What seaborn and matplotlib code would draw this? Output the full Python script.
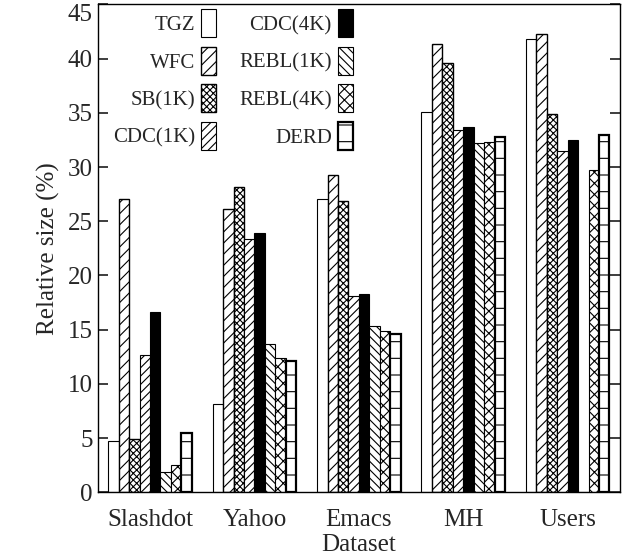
import matplotlib
matplotlib.use("Agg")
import matplotlib.pyplot as plt
from matplotlib.patches import Patch
import numpy as np
import pandas as pd
import seaborn as sns

datasets = ["Slashdot", "Yahoo", "Emacs", "MH", "Users"]
methods = ["TGZ", "WFC", "SB(1K)", "CDC(1K)", "CDC(4K)", "REBL(1K)", "REBL(4K)", "DERD"]

tgz = [4.7, 8.1, 27.1, 35.1, 41.8]
wfc = [27.1, 26.1, 29.3, 41.4, 42.3]
sb_1k = [4.9, 28.2, 26.9, 39.6, 34.9]
cdc_1k = [12.7, 23.4, 18.1, 33.4, 31.5]
cdc_4k = [16.6, 23.9, 18.3, 33.7, 32.5]
rebl_1k = [1.9, 13.7, 15.3, 32.2, 0.0]
rebl_4k = [2.5, 12.4, 14.9, 32.3, 29.7]
derd = [5.5, 12.1, 14.6, 32.8, 33.0]

series = [tgz, wfc, sb_1k, cdc_1k, cdc_4k, rebl_1k, rebl_4k, derd]

rows = []
for m, vals in zip(methods, series):
    for d, v in zip(datasets, vals):
        rows.append({"Dataset": d, "Method": m, "Relative size (%)": v})
df = pd.DataFrame(rows)

sns.set_theme(style="ticks")
plt.rcParams["font.family"] = ["Liberation Serif", "DejaVu Serif"]
plt.rcParams["hatch.linewidth"] = 0.8

styles = {
    "TGZ": dict(fc="white", hatch=None, lw=0.8),
    "WFC": dict(fc="white", hatch="///", lw=1.0),
    "SB(1K)": dict(fc="white", hatch="xxxxx", lw=1.0),
    "CDC(1K)": dict(fc="white", hatch="////", lw=0.8),
    "CDC(4K)": dict(fc="black", hatch=None, lw=0.8),
    "REBL(1K)": dict(fc="white", hatch="\\\\\\\\", lw=0.8),
    "REBL(4K)": dict(fc="white", hatch="xxx", lw=0.8),
    "DERD": dict(fc="white", hatch="-", lw=1.6),
}

fig = plt.figure(figsize=(6.23, 5.6), dpi=100)
ax = fig.add_axes([0.157, 0.121, 0.838, 0.871])

sns.barplot(data=df, x="Dataset", y="Relative size (%)", hue="Method",
            order=datasets, hue_order=methods, width=0.8, ax=ax,
            errorbar=None, legend=False)

for m, cont in zip(methods, ax.containers):
    st = styles[m]
    for p in cont.patches:
        p.set_facecolor(st["fc"])
        p.set_edgecolor("black")
        p.set_linewidth(st["lw"])
        if st["hatch"]:
            p.set_hatch(st["hatch"])

handles = [Patch(facecolor=styles[m]["fc"], edgecolor="black",
                 hatch=styles[m]["hatch"], linewidth=styles[m]["lw"], label=m)
           for m in methods]
ax.legend(handles=handles, loc="upper left", ncol=2, frameon=False,
          markerfirst=False, fontsize=15, handlelength=0.72, handleheight=1.7,
          labelspacing=0.45, columnspacing=1.1, handletextpad=0.3,
          borderpad=0, borderaxespad=0, bbox_to_anchor=(0.029, 0.99))

ax.set_ylim(0, 45)
ax.set_xlim(-0.5, 4.5)
ax.set_yticks(np.arange(0, 46, 5))
ax.set_ylabel("Relative size (%)", fontsize=18, labelpad=6)
ax.set_xlabel("Dataset", fontsize=18, labelpad=2)
ax.tick_params(axis="y", direction="in", right=True, labelsize=18, length=7)
ax.tick_params(axis="x", length=0, labelsize=18, pad=12)
ax.get_yticklabels()[-1].set_verticalalignment("top")
for s in ax.spines.values():
    s.set_linewidth(1.0)
    s.set_color("black")

fig.savefig("out.png", dpi=100)
